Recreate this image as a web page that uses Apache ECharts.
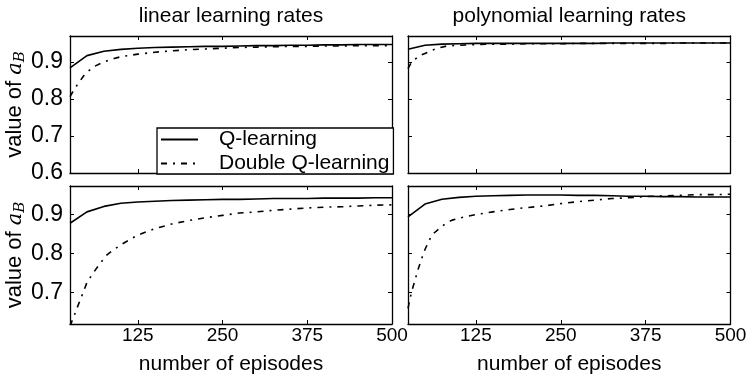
<!DOCTYPE html>
<html>
<head>
<meta charset="utf-8">
<script src="https://cdn.jsdelivr.net/npm/echarts@6/dist/echarts.min.js"></script>
<style>html,body{margin:0;padding:0;background:#fff}#c{width:750px;height:379px}</style>
</head>
<body>
<div id="c"></div>
<script>
// ---- data ----
const PANEL_TITLES = ['linear learning rates', 'polynomial learning rates'];
const SERIES_NAMES = ['Q-learning', 'Double Q-learning'];
const X_TICKS = [125, 250, 375, 500];
const Y_TICKS_TOP = [0.6, 0.7, 0.8, 0.9];
const Y_TICKS_BOTTOM = [0.7, 0.8, 0.9];
const X_LABEL = 'number of episodes';

const EPISODES_Q = [25, 50, 75, 100, 125, 150, 175, 200, 225, 250, 275, 300, 325, 350, 375, 400, 425, 450, 475, 500];
const EPISODES_DQ = [25, 30, 35, 40, 45, 50, 60, 70, 80, 90, 100, 125, 150, 175, 200, 225, 250, 275, 300, 325, 350, 375, 400, 425, 450, 475, 500];

const Q_LINEAR_TOP = [0.884, 0.917, 0.929, 0.934, 0.937, 0.939, 0.940, 0.941, 0.942, 0.942, 0.943, 0.944, 0.944, 0.945, 0.945, 0.946, 0.946, 0.947, 0.947, 0.947];
const Q_POLY_TOP = [0.934, 0.945, 0.948, 0.949, 0.950, 0.950, 0.950, 0.950, 0.950, 0.950, 0.950, 0.950, 0.951, 0.951, 0.951, 0.951, 0.951, 0.951, 0.951, 0.951];
const Q_LINEAR_BOTTOM = [0.877, 0.906, 0.920, 0.928, 0.931, 0.933, 0.935, 0.936, 0.937, 0.938, 0.938, 0.939, 0.940, 0.940, 0.940, 0.941, 0.941, 0.941, 0.942, 0.942];
const Q_POLY_BOTTOM = [0.893, 0.926, 0.938, 0.943, 0.946, 0.947, 0.948, 0.949, 0.949, 0.949, 0.948, 0.948, 0.947, 0.946, 0.946, 0.945, 0.945, 0.944, 0.944, 0.944];

const DQ_LINEAR_TOP = [0.806, 0.822, 0.836, 0.849, 0.862, 0.872, 0.887, 0.896, 0.903, 0.909, 0.914, 0.921, 0.926, 0.930, 0.933, 0.935, 0.937, 0.939, 0.940, 0.941, 0.942, 0.942, 0.943, 0.943, 0.944, 0.944, 0.944];
const DQ_POLY_TOP = [0.882, 0.899, 0.907, 0.913, 0.919, 0.923, 0.931, 0.938, 0.942, 0.944, 0.945, 0.947, 0.948, 0.948, 0.949, 0.949, 0.949, 0.950, 0.950, 0.950, 0.950, 0.950, 0.950, 0.951, 0.951, 0.951, 0.951];
const DQ_LINEAR_BOTTOM = [0.615, 0.636, 0.659, 0.681, 0.703, 0.726, 0.752, 0.776, 0.797, 0.810, 0.822, 0.847, 0.863, 0.875, 0.884, 0.891, 0.897, 0.903, 0.906, 0.910, 0.913, 0.916, 0.918, 0.919, 0.921, 0.923, 0.924];
const DQ_POLY_BOTTOM = [0.660, 0.700, 0.730, 0.760, 0.786, 0.810, 0.847, 0.862, 0.876, 0.885, 0.890, 0.899, 0.906, 0.912, 0.917, 0.921, 0.927, 0.932, 0.936, 0.940, 0.942, 0.945, 0.947, 0.948, 0.950, 0.950, 0.951];

// ---- layout / style ----
const FONT = 'Liberation Sans';
const X_MIN = 25, X_MAX = 500;
const Y_RANGE_TOP = [0.6, 0.97];
const Y_RANGE_BOTTOM = [0.62, 0.972];
const GRIDS = [
  {left: 70, top: 36, width: 322, height: 137},
  {left: 408, top: 36, width: 322.5, height: 137},
  {left: 70, top: 186, width: 322, height: 138},
  {left: 408, top: 186, width: 322.5, height: 138}
];
const PANELS = [
  {q: Q_LINEAR_TOP, dq: DQ_LINEAR_TOP, row: 0, col: 0},
  {q: Q_POLY_TOP, dq: DQ_POLY_TOP, row: 0, col: 1},
  {q: Q_LINEAR_BOTTOM, dq: DQ_LINEAR_BOTTOM, row: 1, col: 0},
  {q: Q_POLY_BOTTOM, dq: DQ_POLY_BOTTOM, row: 1, col: 1}
];

const AXLINE = {show: true, lineStyle: {color: '#000', width: 1.3}};
const tick = vals => ({show: true, inside: true, length: 4, customValues: vals, lineStyle: {color: '#000', width: 1}});
const DASH_DOT = [6, 6, 2, 6];

const xAxes = [], yAxes = [], series = [];
PANELS.forEach((p, i) => {
  const bottomRow = p.row === 1;
  const leftCol = p.col === 0;
  const yr = p.row === 0 ? Y_RANGE_TOP : Y_RANGE_BOTTOM;
  const yt = p.row === 0 ? Y_TICKS_TOP : Y_TICKS_BOTTOM;
  xAxes.push({
    type: 'value', gridIndex: i, position: 'bottom', min: X_MIN, max: X_MAX,
    axisLine: AXLINE, axisTick: tick(X_TICKS), splitLine: {show: false},
    axisLabel: {show: bottomRow, customValues: X_TICKS, color: '#000', fontFamily: FONT, fontSize: 19, margin: 2},
    name: bottomRow ? X_LABEL : '', nameLocation: 'middle', nameGap: 30,
    nameTextStyle: {color: '#000', fontFamily: FONT, fontSize: 21}
  });
  xAxes.push({
    type: 'value', gridIndex: i, position: 'top', min: X_MIN, max: X_MAX,
    axisLine: AXLINE, axisTick: tick(X_TICKS.slice(0, 3)), splitLine: {show: false},
    axisLabel: {show: false}
  });
  yAxes.push({
    type: 'value', gridIndex: i, position: 'left', min: yr[0], max: yr[1],
    axisLine: AXLINE, axisTick: tick(yt), splitLine: {show: false},
    axisLabel: {show: leftCol, customValues: yt, color: '#000', fontFamily: FONT, fontSize: 23, margin: 7,
      formatter: v => v.toFixed(1)},
    name: leftCol ? '{t|value of }{i|a}{s|B}' : '', nameLocation: 'middle', nameRotate: 90, nameGap: 38,
    nameTextStyle: {color: '#000', fontFamily: FONT, fontSize: 22,
      rich: {
        t: {fontFamily: FONT, fontSize: 22, color: '#000'},
        i: {fontFamily: 'DejaVu Serif', fontStyle: 'italic', fontSize: 21, color: '#000'},
        s: {fontFamily: 'DejaVu Serif', fontStyle: 'italic', fontSize: 15, color: '#000', verticalAlign: 'bottom', padding: [9, 0, 0, 0]}
      }}
  });
  yAxes.push({
    type: 'value', gridIndex: i, position: 'right', min: yr[0], max: yr[1],
    axisLine: AXLINE, axisTick: tick(yt.filter(v => v > yr[0])), splitLine: {show: false},
    axisLabel: {show: false}
  });
  series.push({
    name: SERIES_NAMES[0], type: 'line', xAxisIndex: 2 * i, yAxisIndex: 2 * i,
    data: EPISODES_Q.map((x, k) => [x, p.q[k]]), symbol: 'none', clip: true,
    lineStyle: {color: '#000', width: 1.6, type: 'solid'}, itemStyle: {color: '#000'}, z: 3
  });
  series.push({
    name: SERIES_NAMES[1], type: 'line', xAxisIndex: 2 * i, yAxisIndex: 2 * i,
    data: EPISODES_DQ.map((x, k) => [x, p.dq[k]]), symbol: 'none', clip: true,
    lineStyle: {color: '#000', width: 1.6, type: DASH_DOT}, itemStyle: {color: '#000'}, z: 2
  });
});

const chart = echarts.init(document.getElementById('c'), null, {renderer: 'canvas'});
chart.setOption({
  animation: false,
  backgroundColor: '#fff',
  grid: GRIDS,
  xAxis: xAxes,
  yAxis: yAxes,
  series: series,
  legend: {
    data: SERIES_NAMES, orient: 'vertical', left: 157, top: 128,
    itemWidth: 37, itemHeight: 14, itemGap: 3, padding: [1, 4, 0, 3],
    backgroundColor: '#fff', borderColor: '#000', borderWidth: 1.3, borderRadius: 0,
    itemStyle: {opacity: 0},
    textStyle: {color: '#000', fontFamily: FONT, fontSize: 21, padding: [0, 0, 0, 16]},
    selectedMode: false, z: 10
  },
  graphic: PANEL_TITLES.map((t, j) => ({
    type: 'text', x: GRIDS[j].left + GRIDS[j].width / 2, y: 16,
    style: {text: t, textAlign: 'center', textVerticalAlign: 'middle', font: '21px "' + FONT + '"', fill: '#000'}
  }))
});
</script>
</body>
</html>
